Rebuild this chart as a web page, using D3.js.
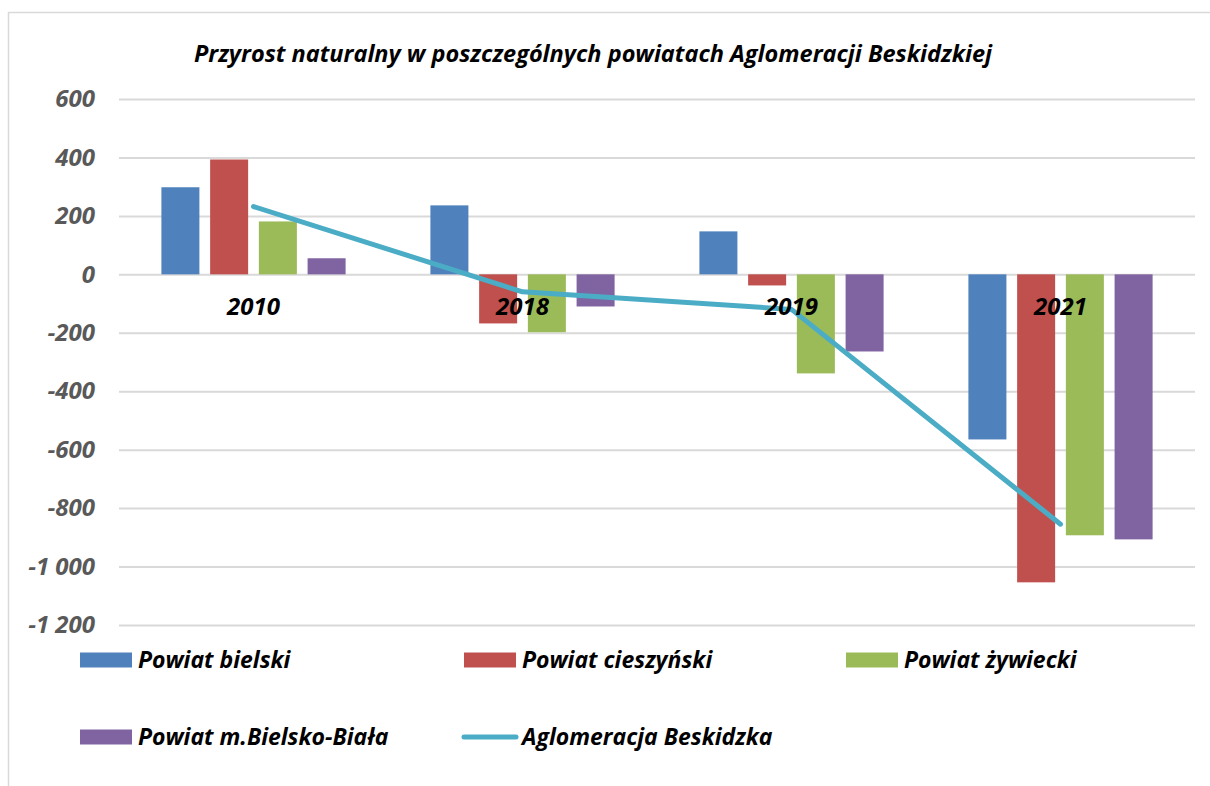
<!DOCTYPE html>
<html>
<head>
<meta charset="utf-8">
<script src="https://cdn.jsdelivr.net/npm/d3@7"></script>
<style>
  body { margin: 0; background: #fff; }
  text { font-family: "Open Sans", sans-serif; font-weight: bold; font-style: italic; }
</style>
</head>
<body>
<div id="chart"></div>
<script>
// data
var years = ["2010", "2018", "2019", "2021"];
var seriesNames = ["Powiat bielski", "Powiat cieszyński", "Powiat żywiecki", "Powiat m.Bielsko-Biała"];
var bielski = [298, 236, 147, -565];
var cieszynski = [393, -168, -38, -1054];
var zywiecki = [181, -198, -339, -893];
var bielskoBiala = [55, -110, -264, -907];
var aglomeracja = [232, -60, -120, -855];
var lineName = "Aglomeracja Beskidzka";
var yTicks = [600, 400, 200, 0, -200, -400, -600, -800, -1000, -1200];
var title = "Przyrost naturalny w poszczególnych powiatach Aglomeracji Beskidzkiej";

var colors = ["#4f81bd", "#c0504d", "#9bbb59", "#8064a2"];
var lineColor = "#4bacc6";
var barSeries = [bielski, cieszynski, zywiecki, bielskoBiala];

var svg = d3.select("#chart").append("svg")
    .attr("width", 1210)
    .attr("height", 786);

// chart frame (goes past the right and bottom edges)
svg.append("rect")
    .attr("x", 8.5).attr("y", 12.5)
    .attr("width", 1300).attr("height", 900)
    .attr("fill", "none")
    .attr("stroke", "#d9d9d9")
    .attr("stroke-width", 1.5);

svg.append("text")
    .attr("x", 593).attr("y", 62)
    .attr("text-anchor", "middle")
    .attr("font-size", 23.5)
    .attr("fill", "#000")
    .text(title);

var x0 = d3.scaleBand().domain(years).range([119, 1195]).padding(0);
var x1 = d3.scaleBand().domain(d3.range(4)).range([0, x0.bandwidth()])
    .paddingInner(0.22).paddingOuter(0.87);
var y = d3.scaleLinear().domain([-1200, 600]).range([625, 99]);

// grid + y labels, hyphen minus and space for thousands like the original
var fmt = function(d) {
    var s = d3.format(",")(Math.abs(d)).replace(/,/g, " ");
    return (d < 0 ? "-" : "") + s;
};
var yAxis = svg.append("g")
    .attr("transform", "translate(119,0)")
    .call(d3.axisLeft(y).tickValues(yTicks).tickSize(-1076).tickPadding(24).tickFormat(fmt));
yAxis.select(".domain").remove();
yAxis.selectAll(".tick line").attr("stroke", "#d9d9d9").attr("stroke-width", 2);
yAxis.selectAll(".tick text")
    .attr("fill", "#595959")
    .attr("font-size", 24)
    .attr("font-family", "'Open Sans', sans-serif");

// bars
var groups = svg.append("g").selectAll("g")
    .data(years)
    .join("g")
    .attr("transform", function(d) { return "translate(" + x0(d) + ",0)"; });

groups.selectAll("rect")
    .data(function(d, i) { return barSeries.map(function(s, k) { return { k: k, v: s[i] }; }); })
    .join("rect")
    .attr("x", function(d) { return x1(d.k); })
    .attr("width", x1.bandwidth())
    .attr("y", function(d) { return y(Math.max(0, d.v)); })
    .attr("height", function(d) { return Math.abs(y(d.v) - y(0)); })
    .attr("fill", function(d) { return colors[d.k]; });

// aglomeracja line
var line = d3.line()
    .x(function(d, i) { return x0(years[i]) + x0.bandwidth() / 2; })
    .y(function(d) { return y(d); });
svg.append("path")
    .datum(aglomeracja)
    .attr("d", line)
    .attr("fill", "none")
    .attr("stroke", lineColor)
    .attr("stroke-width", 5)
    .attr("stroke-linecap", "round")
    .attr("stroke-linejoin", "round");

// category labels at zero line
svg.append("g").selectAll("text")
    .data(years)
    .join("text")
    .attr("x", function(d) { return x0(d) + x0.bandwidth() / 2; })
    .attr("y", y(0) + 41)
    .attr("text-anchor", "middle")
    .attr("font-size", 24)
    .attr("fill", "#000")
    .text(function(d) { return d; });

// legend
var legendItems = [
    { name: seriesNames[0], color: colors[0], x: 80, y: 660 },
    { name: seriesNames[1], color: colors[1], x: 464, y: 660 },
    { name: seriesNames[2], color: colors[2], x: 846, y: 660 },
    { name: seriesNames[3], color: colors[3], x: 80, y: 737 },
    { name: lineName, color: lineColor, x: 464, y: 737, line: true }
];
var legend = svg.append("g").selectAll("g")
    .data(legendItems)
    .join("g")
    .attr("transform", function(d) { return "translate(" + d.x + "," + d.y + ")"; });

legend.each(function(d) {
    var g = d3.select(this);
    if (d.line) {
        g.append("line")
            .attr("x1", 0).attr("x2", 52)
            .attr("stroke", d.color)
            .attr("stroke-width", 5)
            .attr("stroke-linecap", "round");
    } else {
        g.append("rect")
            .attr("x", 0).attr("y", -7.5)
            .attr("width", 52).attr("height", 15)
            .attr("fill", d.color);
    }
    g.append("text")
        .attr("x", 58).attr("y", 8)
        .attr("font-size", 23)
        .attr("fill", "#000")
        .text(d.name);
});
</script>
</body>
</html>
